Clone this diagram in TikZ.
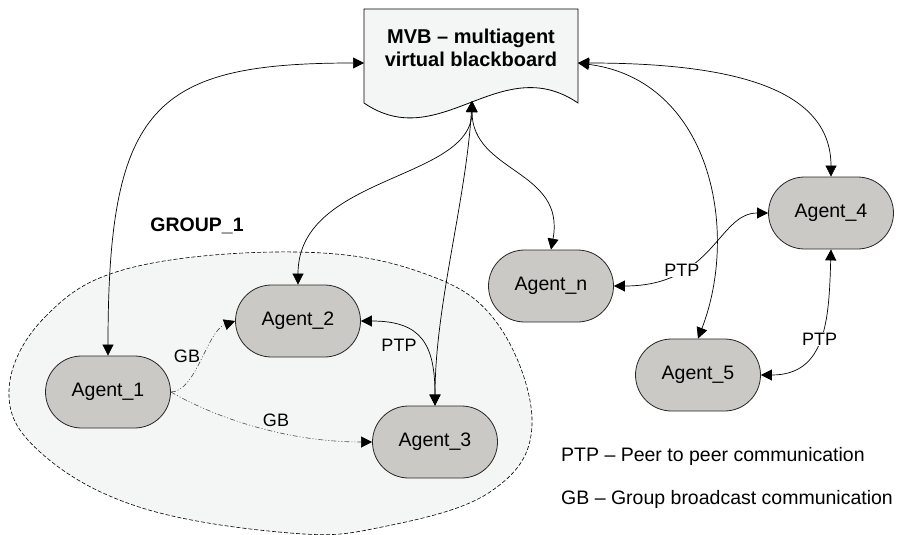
\documentclass[tikz,border=0pt]{standalone}
\usepackage{fontspec}
\setmainfont{Liberation Sans}
\usetikzlibrary{arrows.meta,shapes.misc}
\definecolor{agentgray}{RGB}{203,201,198}
\definecolor{paleback}{RGB}{244,246,245}
\begin{document}
\begin{tikzpicture}[x=1pt,y=-1pt,
  agent/.style={rounded rectangle, draw=black!85, fill=agentgray, minimum width=125pt,
    minimum height=72pt, inner sep=0pt, line width=0.8pt, font=\fontsize{19.5}{22}\selectfont},
  tip/.tip={Triangle[length=11pt,width=11pt]},
  conn/.style={line width=0.7pt, tip-tip},
  gbline/.style={line width=0.6pt, black!70, dash pattern=on 5pt off 2pt on 1pt off 2pt on 1pt off 2pt, -{Triangle[length=11pt,width=11pt,black]}},
  lbl/.style={font=\fontsize{18}{20}\selectfont, inner sep=1pt},
  legend/.style={font=\fontsize{19.5}{22}\selectfont, anchor=west, inner sep=0pt}
]
\useasboundingbox (0,0) rectangle (903,535);

% group ellipse
\draw[fill=paleback, line width=0.6pt, dash pattern=on 4pt off 2pt]
  plot[smooth cycle, tension=0.65] coordinates {(9,390) (45,317) (130,268) (295,252) (420,272) (497,323) (532,425) (490,492) (382,527) (290,533) (139,507) (40,452)};
\node[font=\bfseries\fontsize{19.5}{22}\selectfont] (grp) at (197,226) {GROUP\_1};

% MVB document shape
\draw[fill=paleback, line width=0.8pt] (364,9) -- (578,9) -- (578,103)
  .. controls (500,50) and (440,155) .. (364,103) -- cycle;
\node[font=\bfseries\fontsize{20}{23}\selectfont, align=center] (mvb) at (471,48) {MVB -- multiagent\\virtual blackboard};
\coordinate (mvbL) at (364,63);
\coordinate (mvbR) at (578,63);
\coordinate (mvbB) at (472,101);

% agents
\node[agent] (a1) at (108,392) {Agent\_1};
\node[agent] (a2) at (298,321) {Agent\_2};
\node[agent] (a3) at (435,442) {Agent\_3};
\node[agent] (an) at (551,286) {Agent\_n};
\node[agent] (a4) at (831,213) {Agent\_4};
\node[agent] (a5) at (698,375) {Agent\_5};

% MVB connectors
\draw[conn] (mvbL) .. controls +(-210,0) and +(0,-250) .. (a1.north);
\draw[conn] (mvbB) .. controls +(0,80) and +(0,-110) .. (a2.north);
\draw[conn] (mvbB) .. controls +(-6,100) and +(0,-100) .. (a3.north);
\draw[conn] (mvbB) .. controls +(0,72) and +(15,-80) .. (an.north);
\draw[conn] (mvbR) .. controls +(150,0) and +(0,-90) .. (a4.north);
\draw[conn] (mvbR) .. controls +(132,17) and +(42,-109) .. (a5.north);

% peer to peer
\draw[conn] (an.east) .. controls +(100,0) and +(-50,0) .. node[lbl, fill=white, pos=0.3] (p1) {PTP} (a4.west);
\draw[conn] (a4.south) .. controls +(-2,71) and +(65,0) .. node[lbl, fill=white, pos=0.5] (p2) {PTP} (a5.east);
\draw[conn] (a2.east) .. controls +(60,0) and +(0,-62) .. (a3.north);
\node[lbl] (p3) at (399,345) {PTP};

% group broadcast
\draw[gbline] (a1.east) .. controls +(25,0) and +(-28,10) .. (a2.west);
\node[lbl] (g1) at (187,356) {GB};
\draw[gbline] (a1.east) .. controls +(45,26) and +(-85,0) .. (a3.west);
\node[lbl] (g2) at (276,420) {GB};

% legend
\node[legend] (l1) at (561,456) {PTP -- Peer to peer communication};
\node[legend] (l2) at (561,499) {GB -- Group broadcast communication};
\end{tikzpicture}
\end{document}
